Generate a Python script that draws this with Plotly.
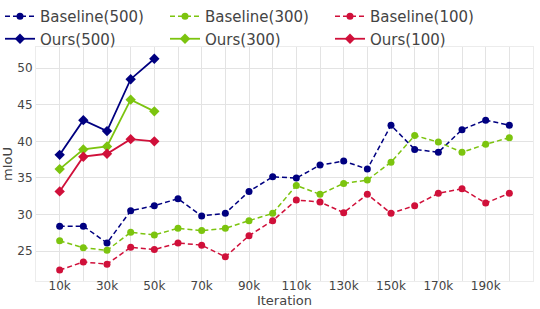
import plotly.graph_objects as go

iters = [10, 20, 30, 40, 50, 60, 70, 80, 90, 100, 110, 120, 130, 140, 150, 160, 170, 180, 190, 200]
ours_iters = [10, 20, 30, 40, 50]

baseline_500 = [28.4, 28.4, 26.1, 30.5, 31.2, 32.15, 29.8, 30.15, 33.15, 35.15, 34.97, 36.75, 37.3, 36.2, 42.2, 38.9, 38.5, 41.6, 42.9, 42.2]
baseline_300 = [26.4, 25.45, 25.1, 27.55, 27.2, 28.1, 27.8, 28.1, 29.15, 30.15, 33.97, 32.75, 34.25, 34.7, 37.15, 40.8, 39.9, 38.5, 39.6, 40.5]
baseline_100 = [22.4, 23.5, 23.2, 25.5, 25.2, 26.1, 25.8, 24.2, 27.1, 29.15, 31.97, 31.7, 30.25, 32.75, 30.15, 31.2, 32.9, 33.5, 31.55, 32.9]
ours_500 = [38.15, 42.9, 41.4, 48.5, 51.3]
ours_300 = [36.2, 38.9, 39.3, 45.7, 44.1]
ours_100 = [33.15, 37.9, 38.3, 40.3, 40.0]

tick_vals = list(range(0, 211, 10))
tick_text = [f"{v}k" if v in (10, 30, 50, 70, 90, 110, 130, 150, 170, 190) else "" for v in tick_vals]

NAVY = "#000080"
GREEN = "#7cc40f"
RED = "#d0103a"

fig = go.Figure()
for name, ys, col in [("Baseline(500)", baseline_500, NAVY),
                      ("Baseline(300)", baseline_300, GREEN),
                      ("Baseline(100)", baseline_100, RED)]:
    fig.add_trace(go.Scatter(x=iters, y=ys, name=name, mode="lines+markers",
                             line=dict(color=col, width=1.5, dash="5px,3px"),
                             marker=dict(color=col, size=7, symbol="circle")))
for name, ys, col in [("Ours(500)", ours_500, NAVY),
                      ("Ours(300)", ours_300, GREEN),
                      ("Ours(100)", ours_100, RED)]:
    fig.add_trace(go.Scatter(x=ours_iters, y=ys, name=name, mode="lines+markers",
                             line=dict(color=col, width=1.8),
                             marker=dict(color=col, size=8, symbol="diamond")))

fig.update_layout(
    width=540, height=309,
    margin=dict(l=36, r=7, t=47, b=28, autoexpand=False),
    paper_bgcolor="white", plot_bgcolor="white",
    font=dict(family="DejaVu Sans", size=12, color="#444"),
    legend=dict(orientation="h", x=0, xanchor="left", xref="container",
                y=1, yanchor="top", yref="container",
                font=dict(size=15),
                entrywidth=120, entrywidthmode="pixels",
                tracegroupgap=0, bgcolor="rgba(0,0,0,0)"),
    xaxis=dict(range=[0, 210], tickvals=tick_vals, ticktext=tick_text,
               showgrid=True, gridcolor="#e3e3e3", zeroline=False,
               showline=True, mirror=True, linecolor="#ececec",
               title=dict(text="Iteration", font=dict(size=13), standoff=3),
               ticks="", tickfont=dict(size=12), automargin=False,
               ticklabelstandoff=-6),
    yaxis=dict(range=[20.9, 52.9], tickvals=[25, 30, 35, 40, 45, 50],
               showgrid=True, gridcolor="#e3e3e3", zeroline=False,
               showline=True, mirror=True, linecolor="#ececec",
               title=dict(text="mIoU", font=dict(size=13), standoff=6),
               ticks="", tickfont=dict(size=12), automargin=False),
)

fig.write_html("out.html", config={"displayModeBar": False},
               post_script="document.body.style.margin='0';")
